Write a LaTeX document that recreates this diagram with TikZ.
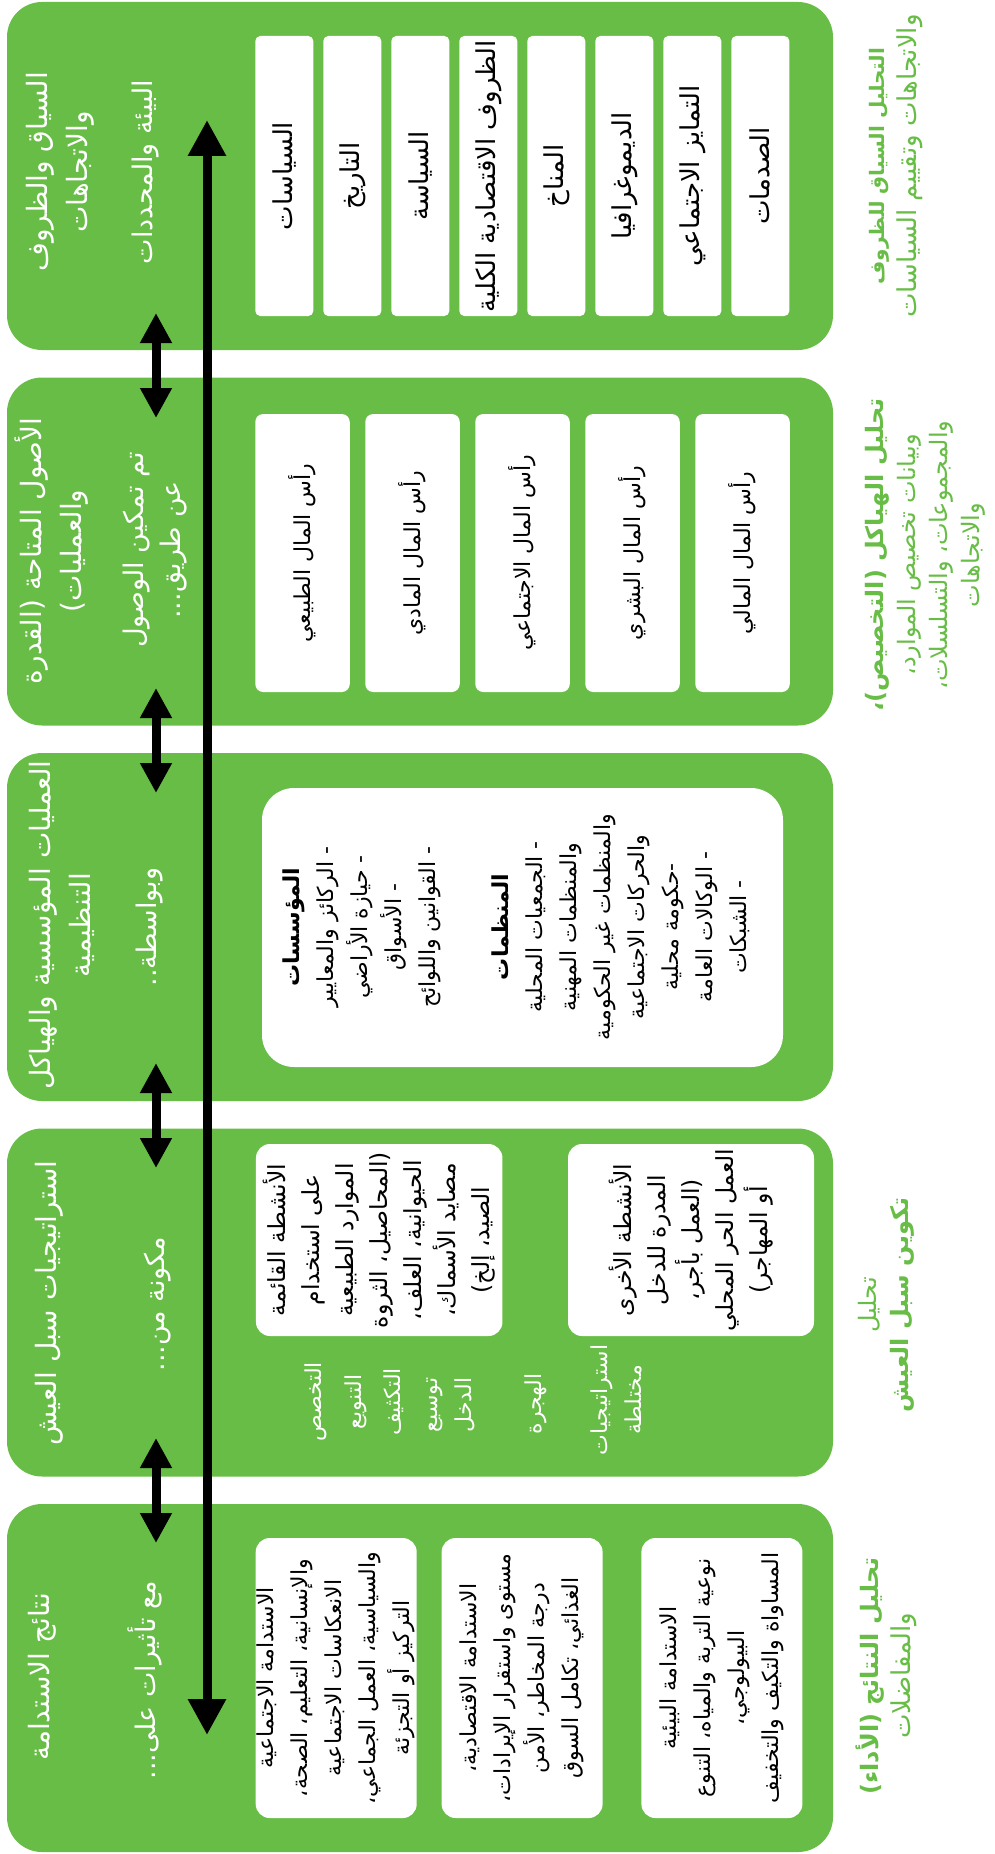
\documentclass[tikz,border=0pt]{standalone}
\usepackage{fontspec}
\newfontfamily\arabicfont[Script=Arabic]{DejaVu Sans}
\TeXXeTstate=1
\usetikzlibrary{arrows.meta}
\definecolor{leafgreen}{RGB}{103,189,69}
\newcommand{\ar}[1]{\beginR #1\endR}
\newcommand{\heavy}[1]{{\bfseries\ar{#1}}}
\tikzset{
  panel/.style={fill=leafgreen, rounded corners=35pt, minimum width=826pt, minimum height=348pt, inner sep=0pt},
  card/.style={fill=white, inner sep=0pt},
  vtext/.style={rotate=90, align=center, inner sep=0pt, font=\arabicfont\fontsize{22}{34}\selectfont},
  headtext/.style={vtext, text=white, font=\arabicfont\fontsize{28}{40}\selectfont},
  subtext/.style={vtext, text=white, font=\arabicfont\fontsize{27}{37}\selectfont},
  midtext/.style={vtext, text=white, font=\arabicfont\fontsize{22}{34}\selectfont},
  sidetext/.style={vtext, text=leafgreen, font=\arabicfont\fontsize{24}{32}\selectfont},
  link/.style={line width=9pt, {Triangle[width=30pt,length=30pt]}-{Triangle[width=30pt,length=30pt]}},
  spine/.style={line width=9pt, {Triangle[width=36pt,length=36pt]}-{Triangle[width=36pt,length=36pt]}},
}
\begin{document}
\begin{tikzpicture}[x=1pt,y=-1pt]
    \useasboundingbox (0,0) rectangle (995,1854);
    % the five green panels
    \foreach \i in {1,...,5} {
        \node[panel] (p\i) at (420,176+375.5*\i-375.5) {};
    }
    % panel headings
    \node[headtext] (h1) at (60,172) {\ar{السياق والظروف}\\\ar{والاتجاهات}};
    \node[subtext] (s1) at (146,172) {\ar{البيئة والمحددات}};
    \node[headtext] (h2) at (52,551) {\ar{الأصول المتاحة (القدرة}\\\ar{والعمليات)}};
    \node[subtext] (s2) at (155,550) {\ar{تم تمكين الوصول}\\\ar{عن طريق...}};
    \node[headtext] (h3) at (62,925) {\ar{العمليات المؤسسية والهياكل}\\\ar{التنظيمية}};
    \node[subtext] (s3) at (150,927) {\ar{وبواسطة..}};
    \node[headtext] (h4) at (49,1303) {\ar{استراتيجيات سبل العيش}};
    \node[subtext] (s4) at (158,1304) {\ar{مكونة من...}};
    \node[headtext] (h5) at (42,1677) {\ar{نتائج الاستدامة}};
    \node[subtext] (s5) at (145,1680) {\ar{مع تأثيرات على...}};
    % context cards
    \foreach[count=\j] \lbl in {السياسات,التاريخ,السياسة,الظروف الاقتصادية الكلية,المناخ,الديموغرافيا,التمايز الاجتماعي,الصدمات} {
        \node[card, vtext, font=\arabicfont\fontsize{26}{34}\selectfont, rounded corners=5pt, minimum width=280pt, minimum height=58pt] (ctx-\j) at (284.3+68*\j-68,176) {\ar{\lbl}};
    }
    % capital cards
    \foreach[count=\j] \lbl in {الطبيعي,المادي,الاجتماعي,البشري,المالي} {
        \node[card, vtext, rounded corners=8pt, minimum width=278pt, minimum height=94.5pt] (cap-\j) at (302.5+110*\j-110,553) {\ar{رأس المال \lbl}};
    }
    % institutions
    \node[card, rounded corners=32pt, minimum width=521pt, minimum height=279pt] (inst) at (522.5,927.5) {};
    \node[vtext] (inst-a) at (362,927) {\heavy{المؤسسات}\\\ar{- الركائز والمعايير}\\\ar{- حيازة الأراضي}\\\ar{- الأسواق}\\\ar{- القوانين واللوائح}};
    \node[vtext] (inst-b) at (621,927) {\heavy{المنظمات}\\\ar{- الجمعيات المحلية}\\\ar{والمنظمات المهنية}\\\ar{والمنظمات غير الحكومية}\\\ar{والحركات الاجتماعية}\\\ar{-حكومة محلية}\\\ar{- الوكالات العامة}\\\ar{- الشبكات}};
    % strategies
    \node[card, vtext, font=\arabicfont\fontsize{23.5}{34}\selectfont, rounded corners=14pt, minimum width=192pt, minimum height=246.5pt] (str-1) at (379.2,1240) {\ar{الأنشطة القائمة}\\\ar{على استخدام}\\\ar{الموارد الطبيعية}\\\ar{(المحاصيل، الثروة}\\\ar{الحيوانية، العلف،}\\\ar{مصايد الأسماك،}\\\ar{الصيد، إلخ)}};
    \node[card, vtext, font=\arabicfont\fontsize{23.5}{34}\selectfont, rounded corners=14pt, minimum width=192pt, minimum height=246pt] (str-2) at (691,1240) {\ar{الأنشطة الأخرى}\\\ar{المدرة للدخل}\\\ar{(العمل بأجر،}\\\ar{العمل الحر المحلي}\\\ar{أو المهاجر)}};
    \node[midtext] (m1) at (316,1402) {\ar{التخصص}};
    \node[midtext] (m2) at (356,1402) {\ar{التنويع}};
    \node[midtext] (m3) at (394,1402) {\ar{التكثيف}};
    \node[midtext] (m4) at (451,1405) {\ar{توسيع}\\\ar{الدخل}};
    \node[midtext] (m5) at (536,1404) {\ar{الهجرة}};
    \node[midtext] (m6) at (616,1400) {\ar{استراتيجيات}\\\ar{مختلطة}};
    % outcomes
    \node[card, vtext, rounded corners=14pt, minimum width=280pt, minimum height=161pt] (out-1) at (336.2,1678) {\ar{الاستدامة الاجتماعية}\\\ar{والإنسانية، التعليم، الصحة،}\\\ar{الانعكاسات الاجتماعية}\\\ar{والسياسية، العمل الجماعي،}\\\ar{التركيز أو التجزئة}};
    \node[card, vtext, rounded corners=14pt, minimum width=280pt, minimum height=161pt] (out-2) at (522.1,1678) {\ar{الاستدامة الاقتصادية،}\\\ar{مستوى واستقرار الإيرادات،}\\\ar{درجة المخاطر، الأمن}\\\ar{الغذائي، تكامل السوق}};
    \node[card, vtext, rounded corners=14pt, minimum width=280pt, minimum height=161pt] (out-3) at (721.9,1678) {\ar{الاستدامة البيئية}\\\ar{نوعية التربة والمياه، التنوع}\\\ar{البيولوجي،}\\\ar{المساواة والتكيف والتخفيف}};
    % analysis labels
    \node[sidetext] (l1) at (896,166) {{\fontsize{20}{32}\selectfont\heavy{التحليل السياق للظروف}}\\{\fontsize{26}{32}\selectfont\ar{والاتجاهات وتقييم السياسات}}};
    \node[sidetext] (l2) at (925,555) {\heavy{تحليل الهياكل (التخصيص)،}\\\ar{وبيانات تخصيص الموارد،}\\\ar{والمجموعات، والتسلسلات،}\\\ar{والاتجاهات}};
    \node[sidetext] (l4) at (886,1305) {\ar{تحليل}\\\heavy{تكوين سبل العيش}};
    \node[sidetext] (l5) at (886,1676) {\heavy{تحليل النتائج (الأداء)}\\{\fontsize{26}{32}\selectfont\ar{والمفاضلات}}};
    % arrows
    \coordinate (top) at (207,120);
    \coordinate (bottom) at (207,1735);
    \draw[spine] (top) -- (bottom);
    \foreach \i in {1,...,4} {
        \coordinate (u\i) at (156,313+375*\i-375);
        \coordinate (d\i) at (156,418+375*\i-375);
        \draw[link] (u\i) -- (d\i);
    }
\end{tikzpicture}
\end{document}
